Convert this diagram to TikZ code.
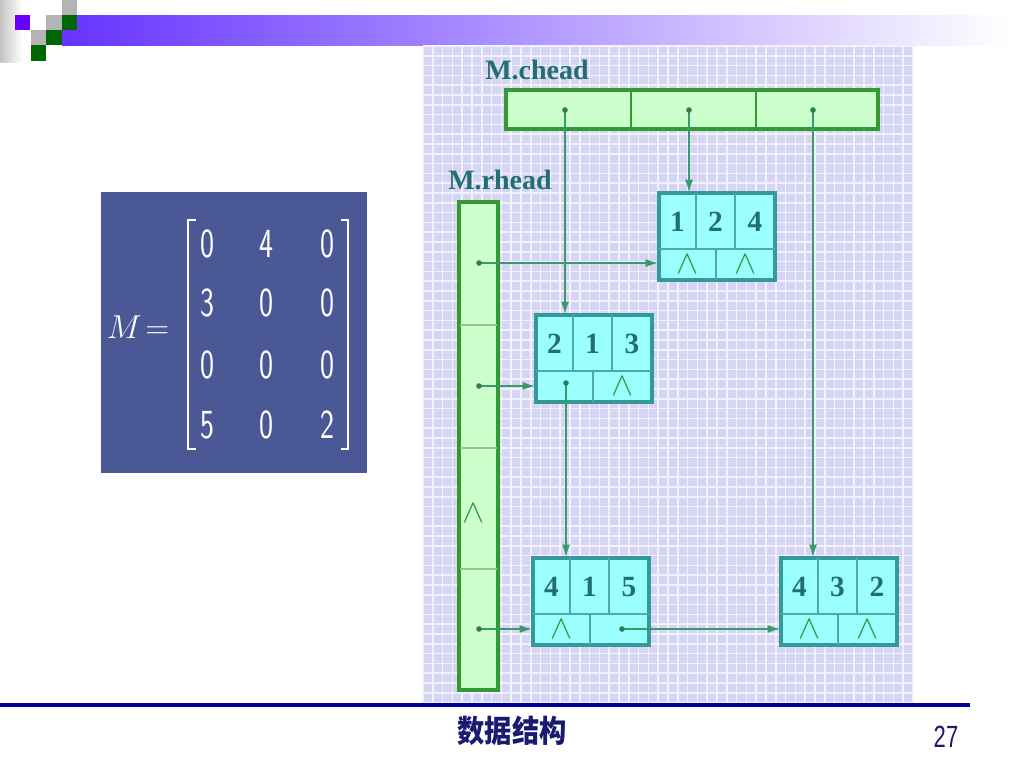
\documentclass[tikz,border=0pt]{standalone}
\usepackage{fontspec}
\usetikzlibrary{arrows.meta}
\newfontfamily\cjkfont{Noto Sans CJK SC}
\newfontfamily\lblfont{Liberation Serif}
\newfontfamily\numfont{Liberation Sans}
\definecolor{hdrpurple}{HTML}{6633FF}
\definecolor{logopurple}{HTML}{6600FF}
\definecolor{logogray}{HTML}{B4B4B4}
\definecolor{logogreen}{HTML}{006600}
\definecolor{navy}{HTML}{000099}
\definecolor{foottext}{HTML}{1A1A70}
\definecolor{panelbg}{HTML}{D6D6F4}
\definecolor{gridwhite}{HTML}{F2F2FF}
\definecolor{headfill}{HTML}{CCFFCC}
\definecolor{headedge}{HTML}{339933}
\definecolor{nodefill}{HTML}{99FFFF}
\definecolor{nodeedge}{HTML}{339999}
\definecolor{labelteal}{HTML}{226E70}
\definecolor{ptrgreen}{HTML}{3A9A6A}
\definecolor{tipgreen}{HTML}{2D7D55}
\definecolor{nilgreen}{HTML}{339933}
\definecolor{mtxblue}{HTML}{4A5896}
\newcommand\mxd[1]{\scalebox{0.72}[1]{#1}}
\newcommand\olnode[6]{%
  \node[olbox,anchor=north west] (#1) at (#2,#3) {};
  \draw[celldiv] (#2,#3+56) -- (#2+116,#3+56);
  \draw[celldiv] (#2+37,#3) -- (#2+37,#3+56);
  \draw[celldiv] (#2+76,#3) -- (#2+76,#3+56);
  \draw[celldiv] (#2+57,#3+56) -- (#2+57,#3+87);
  \node[valtext] (#1-r) at (#2+18.5,#3+29) {#4};
  \node[valtext] (#1-c) at (#2+56.5,#3+29) {#5};
  \node[valtext] (#1-v) at (#2+96,#3+29) {#6};
  \coordinate (#1-L) at (#2+28.5,#3+71.5);
  \coordinate (#1-R) at (#2+86.5,#3+71.5);
}
\begin{document}
\begin{tikzpicture}[x=0.75pt,y=-0.75pt,
  olbox/.style={draw=nodeedge,fill=nodefill,line width=2.5pt,minimum width=87pt,minimum height=65.25pt,inner sep=0pt,outer sep=0pt},
  celldiv/.style={draw=nodeedge!85,line width=1.2pt},
  headbox/.style={draw=headedge,fill=headfill,line width=2.5pt,inner sep=0pt,outer sep=0pt},
  headdiv/.style={draw=headedge,line width=1.2pt},
  rowdiv/.style={draw=headedge!55,line width=0.9pt},
  valtext/.style={text=labelteal,font=\lblfont\bfseries\fontsize{22}{22}\selectfont,inner sep=0pt},
  headlabel/.style={text=labelteal,font=\lblfont\bfseries\fontsize{21}{21}\selectfont,inner sep=0pt},
  nil/.style={text=nilgreen,font=\fontsize{26}{26}\selectfont,inner sep=0pt},
  ptr/.style={draw=ptrgreen,line width=1.7pt,-{Latex[length=10pt,width=6pt,fill=tipgreen]}},
  dot/.style={fill=tipgreen},
  mtx/.style={text=white,font=\sffamily\fontsize{31}{31}\selectfont,inner sep=0pt},
  gridline/.style={draw=gridwhite,line width=1.2pt}]
\useasboundingbox (0,0) rectangle (1024,768);
\fill[white] (0,0) rectangle (1024,768);
% header decoration
\shade[left color=logogray!80, right color=white] (0,0) rectangle (22,62);
\shade[left color=hdrpurple, right color=white] (62,15) rectangle (1012,45);
\fill[logopurple] (15,15) rectangle (30,30);
\fill[logogray] (62,0) rectangle (77,15);
\fill[logogray] (46,15) rectangle (62,30);
\fill[logogreen] (62,15) rectangle (77,30);
\fill[logogray] (31,30) rectangle (46,45);
\fill[logogreen] (46,30) rectangle (62,45);
\fill[logogreen] (31,45) rectangle (46,61);
% footer
\draw[navy,line width=3pt] (0,705) -- (970,705);
\node[text=foottext,font=\cjkfont\bfseries\fontsize{22}{22}\selectfont,inner sep=0pt] (foottitle) at (512,731) {\scalebox{0.93}[1.05]{数据结构}};
\node[text=foottext,font=\numfont\fontsize{23}{23}\selectfont,inner sep=0pt] (pagenum) at (946,737) {\scalebox{0.72}[1]{27}};
% matrix panel
\node[fill=mtxblue,minimum width=199.5pt,minimum height=210.75pt,inner sep=0pt] (mbox) at (234,332.5) {};
\node[text=white,font=\fontsize{26}{26}\selectfont,inner sep=0pt] (meq) at (138,327) {$M\!=$};
\draw[white,line width=1.5pt] (196,220) -- (188,220) -- (188,449) -- (196,449);
\draw[white,line width=1.5pt] (341,220) -- (348,220) -- (348,449) -- (341,449);
\node[mtx] (m11) at (207,244) {\mxd{0}};
\node[mtx] (m12) at (266,244) {\mxd{4}};
\node[mtx] (m13) at (327,244) {\mxd{0}};
\node[mtx] (m21) at (207,303) {\mxd{3}};
\node[mtx] (m22) at (266,303) {\mxd{0}};
\node[mtx] (m23) at (327,303) {\mxd{0}};
\node[mtx] (m31) at (207,365) {\mxd{0}};
\node[mtx] (m32) at (266,365) {\mxd{0}};
\node[mtx] (m33) at (327,365) {\mxd{0}};
\node[mtx] (m41) at (207,425) {\mxd{5}};
\node[mtx] (m42) at (266,425) {\mxd{0}};
\node[mtx] (m43) at (327,425) {\mxd{2}};
% grid panel
\fill[panelbg] (423,46) rectangle (913,703);
\foreach \i in {0,...,50} \draw[gridline] (423+\i*9.8,46) -- (423+\i*9.8,703);
\foreach \j in {0,...,67} \draw[gridline] (423,46+\j*9.8) -- (913,46+\j*9.8);
% head lists
\node[headlabel] (clabel) at (537,70) {M.chead};
\node[headlabel] (rlabel) at (500,180) {M.rhead};
\node[headbox,minimum width=279pt,minimum height=29.25pt] (chead) at (692,109.5) {};
\draw[headdiv] (631,90) -- (631,129);
\draw[headdiv] (756,90) -- (756,129);
\node[headbox,minimum width=29.25pt,minimum height=366pt] (rhead) at (478.5,446) {};
\draw[rowdiv] (460,325) -- (497,325);
\draw[rowdiv] (460,448) -- (497,448);
\draw[rowdiv] (460,569) -- (497,569);
\coordinate (c1) at (565,110);
\coordinate (c2) at (689,110);
\coordinate (c3) at (813,110);
\coordinate (r1) at (479,263);
\coordinate (r2) at (479,386);
\coordinate (r4) at (479,629);
\node[nil] (r3nil) at (474,513) {$\wedge$};
% cross-list nodes
\olnode{A}{659}{193}{1}{2}{4}
\olnode{B}{536}{315}{2}{1}{3}
\olnode{C}{533}{558}{4}{1}{5}
\olnode{D}{781}{558}{4}{3}{2}
\node[nil] (A-Ln) at (A-L) {$\wedge$};
\node[nil] (A-Rn) at (A-R) {$\wedge$};
\node[nil] (B-Rn) at (B-R) {$\wedge$};
\node[nil] (C-Ln) at (C-L) {$\wedge$};
\node[nil] (D-Ln) at (D-L) {$\wedge$};
\node[nil] (D-Rn) at (D-R) {$\wedge$};
\coordinate (bdn) at (566,383);
\coordinate (crt) at (622,629);
% pointers
\draw[ptr] (c1) -- (c1 |- B.north);
\draw[ptr] (c2) -- (c2 |- A.north);
\draw[ptr] (c3) -- (c3 |- D.north);
\draw[ptr] (r1) -- (r1 -| A.west);
\draw[ptr] (r2) -- (r2 -| B.west);
\draw[ptr] (r4) -- (r4 -| C.west);
\draw[ptr] (bdn) -- (bdn |- C.north);
\draw[ptr] (crt) -- (crt -| D.west);
\foreach \p in {c1,c2,c3,r1,r2,r4,bdn,crt} \fill[dot] (\p) circle (2.8);
\end{tikzpicture}
\end{document}
